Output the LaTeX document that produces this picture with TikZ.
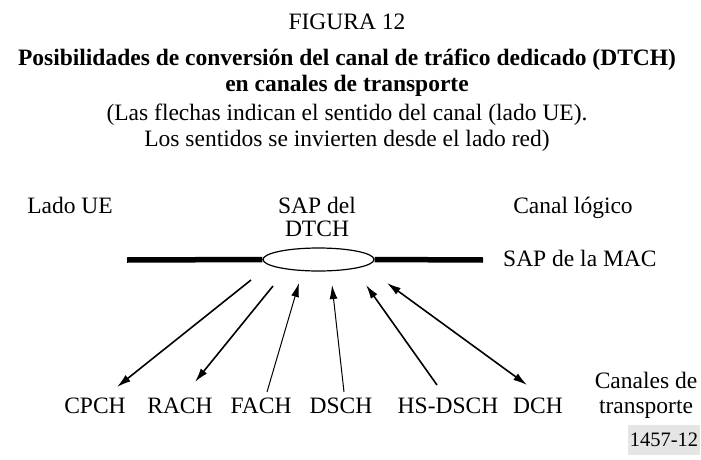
\documentclass[tikz,border=0pt]{standalone}
\usepackage{fontspec}
\setmainfont{Liberation Serif}
\usetikzlibrary{arrows.meta,shapes.geometric}
\begin{document}
\begin{tikzpicture}[
    x=1pt, y=-1pt,
    every node/.style={align=center, inner sep=0pt, font=\fontsize{23.5}{25}\selectfont},
    txt/.style={anchor=base},
    boldtxt/.style={anchor=base, font=\fontsize{23.5}{25}\selectfont\bfseries},
    sap/.style={ellipse, draw, line width=1.2pt, fill=white, minimum width=111pt, minimum height=23pt},
    macline/.style={line width=5.5pt},
    chan/.style={line width=1.6pt, -{Latex[length=14pt,width=8pt]}},
    thinchan/.style={line width=1pt, -{Latex[length=14pt,width=8pt]}},
    figno/.style={fill=gray!20, minimum width=72pt, minimum height=30pt, font=\fontsize{20.5}{22}\selectfont}
]
    \useasboundingbox (0,0) rectangle (701,460);

    % Heading (base = last line)
    \node[txt] (fig) at (347,30) {FIGURA 12};
    \node[boldtxt] (title) at (347,91) {Posibilidades de conversión del canal de tráfico dedicado (DTCH)\\en canales de transporte};
    \node[txt, font=\fontsize{23.5}{26}\selectfont] (note) at (347,146) {(Las flechas indican el sentido del canal (lado UE).\\Los sentidos se invierten desde el lado red)};

    % Upper labels
    \node[txt] (ue) at (70,213) {Lado UE};
    \node[txt, font=\fontsize{23.5}{23}\selectfont] (dtch) at (317,236) {SAP del\\DTCH};
    \node[txt] (logico) at (573,213) {Canal lógico};
    \node[txt, anchor=base west] (mac) at (503,266) {SAP de la MAC};

    % MAC line and DTCH SAP
    \node[sap] (dtchsap) at (318.5,259.5) {};
    \coordinate (macl) at (127,260);
    \coordinate (macr) at (483,260);
    \draw[macline] (macl) -- (dtchsap.west);
    \draw[macline] (dtchsap.east) -- (macr);

    % Transport channels
    \node[txt] (cpch) at (95,413) {CPCH};
    \node[txt] (rach) at (180,413) {RACH};
    \node[txt] (fach) at (261,413) {FACH};
    \node[txt] (dsch) at (341,413) {DSCH};
    \node[txt] (hsdsch) at (448,413) {HS-DSCH};
    \node[txt] (dch) at (538,413) {DCH};
    \node[txt] (transp) at (646,413) {Canales de\\transporte};
    \node[figno] (num) at (664,440) {1457-12};

    % Arrow ends
    \coordinate (cpchtop) at (251,280);
    \coordinate (cpchbot) at (117,387);
    \coordinate (rachtop) at (273,286);
    \coordinate (rachbot) at (195,382);
    \coordinate (fachtop) at (299,283);
    \coordinate (fachbot) at (267,392);
    \coordinate (dschtop) at (332,285);
    \coordinate (dschbot) at (344,392);
    \coordinate (hstop) at (366,285);
    \coordinate (hsbot) at (437,385);
    \coordinate (dchtop) at (387,283);
    \coordinate (dchbot) at (527,385);

    % Connections
    \draw[chan] (cpchtop) -- (cpchbot);
    \draw[chan] (rachtop) -- (rachbot);
    \draw[thinchan] (fachbot) -- (fachtop);
    \draw[thinchan] (dschbot) -- (dschtop);
    \draw[chan] (hsbot) -- (hstop);
    \draw[chan, {Latex[length=14pt,width=8pt]}-{Latex[length=14pt,width=8pt]}] (dchtop) -- (dchbot);
\end{tikzpicture}
\end{document}
